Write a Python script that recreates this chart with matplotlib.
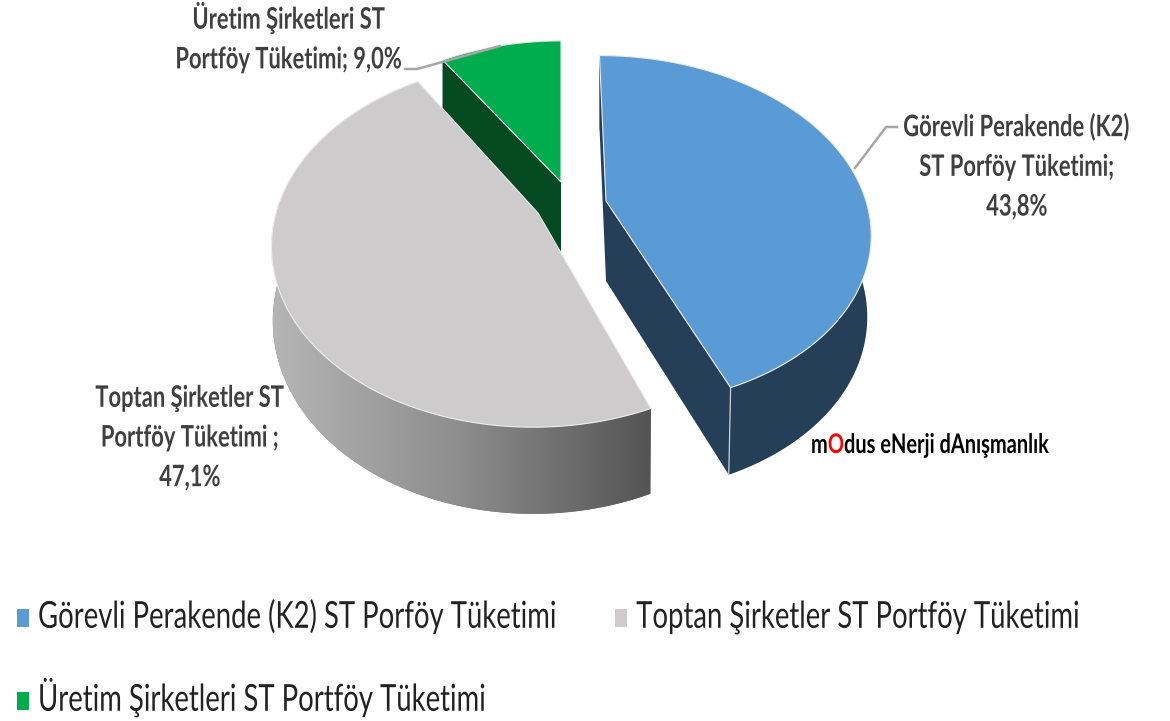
import numpy as np
import matplotlib
matplotlib.use("Agg")
import matplotlib.pyplot as plt
from matplotlib.colors import LinearSegmentedColormap
from matplotlib.patches import Patch, Polygon
from matplotlib.patheffects import AbstractPathEffect
from matplotlib.transforms import Affine2D

plt.rcParams['font.family'] = ['Lato', 'DejaVu Sans']

# data
legend_names = ["Görevli Perakende (K2) ST Porföy Tüketimi",
                "Toptan Şirketler ST Portföy Tüketimi",
                "Üretim Şirketleri ST Portföy Tüketimi"]
label_lines = ["Görevli Perakende (K2)\nST Porföy Tüketimi;\n",
               "Toptan Şirketler ST\nPortföy Tüketimi ;\n",
               "Üretim Şirketleri ST\nPortföy Tüketimi; "]
shares = [43.8, 47.1, 9.0]
colors = ["#5b9bd5", "#cdcbcc", "#00ad4e"]
side_colors = ["#243f57", "#808080", "#034a21"]

# layout of the tilted pie, in pixels
VX = 561.0      # x the far side converges to
PERSP = 0.169
rx = [260, 262, 252]
apex = [(606, 201), (538, 213), (561, 182)]
ry = [170, 178, 165]
depth = [80, 72, 70]
depth_pow = [0.5, 1.0, 2.6]
shrink = [0.985, 0.995, 1.0]


class TallText(AbstractPathEffect):
    # the reference text is stretched upward, so scale glyphs from the baseline
    def __init__(self, sy):
        super().__init__()
        self.sy = sy

    def draw_path(self, renderer, gc, tpath, affine, rgbFace=None):
        renderer.draw_path(gc, tpath, Affine2D().scale(1, self.sy) + affine, rgbFace)


fig = plt.figure(figsize=(11.7, 7.21), dpi=100)
ax = fig.add_axes([0, 0, 1, 1])
ax.set_xlim(0, 1170)
ax.set_ylim(721, 0)
ax.axis('off')

edges = np.cumsum([0] + shares) / sum(shares) * 2 * np.pi


def top_point(i, t, r=1.0):
    w = 1 + PERSP * r * np.cos(t)
    x = VX + (apex[i][0] - VX + rx[i] * r * np.sin(t)) / w
    y = apex[i][1] - ry[i] * r * np.cos(t) / w
    return x, y


def bottom_point(i, t, r=1.0):
    x, y = top_point(i, t, r)
    w = 1 + PERSP * r * np.cos(t)
    return apex[i][0] + (x - apex[i][0]) * shrink[i], y + depth[i] / w ** depth_pow[i]


def arc(i, func):
    ts = np.linspace(edges[i], edges[i + 1], 200)
    return [func(i, t) for t in ts]


def draw_slice(i, show_start, show_end, gradient=None):
    top = arc(i, top_point)
    rim = Polygon(top + arc(i, bottom_point)[::-1], closed=True,
                  fc=side_colors[i], ec='none', zorder=i_order[i])
    ax.add_patch(rim)
    if gradient is not None:
        im = ax.imshow(np.linspace(0, 1, 256).reshape(1, -1), cmap=gradient, aspect='auto',
                       extent=(268, 652, 721, 0), zorder=i_order[i] + 0.1)
        im.set_clip_path(rim)
    for flag, t in ((show_start, edges[i]), (show_end, edges[i + 1])):
        if flag:
            face = [top_point(i, t, 0), top_point(i, t), bottom_point(i, t), bottom_point(i, t, 0)]
            ax.add_patch(Polygon(face, closed=True, fc=side_colors[i], ec='none',
                                 zorder=i_order[i] + 0.2))
    ax.add_patch(Polygon([top_point(i, 0, 0)] + top, closed=True, fc=colors[i],
                         ec='#eeeeee', lw=0.8, zorder=i_order[i] + 0.3))


i_order = [3, 2, 1]
gray_side = LinearSegmentedColormap.from_list("gray_side", ["#b6b6b6", "#8e8d8d", "#545454"])
draw_slice(2, True, False)
draw_slice(1, False, False, gray_side)
draw_slice(0, True, True)
# light seam on the outer corner of the blue slice
cx, cy = zip(top_point(0, edges[1]), bottom_point(0, edges[1]))
ax.plot(cx, cy, color='#c8d0d8', lw=0.9, zorder=3.4)

# data labels
label_style = dict(color='#404040', fontweight='bold', fontsize=15.8, ha='center',
                   va='center', linespacing=2.1, zorder=5, path_effects=[TallText(1.35)])
ax.text(1017, 169, f"{label_lines[0]}{shares[0]:.1f}%".replace('.', ','), **label_style)
ax.text(190, 440, f"{label_lines[1]}{shares[1]:.1f}%".replace('.', ','), **label_style)
ax.text(289, 40, f"{label_lines[2]}{shares[2]:.1f}%".replace('.', ','), **label_style)

# leader lines
ax.plot([897, 886, 855], [127, 127, 168], color='#a6a6a6', lw=1.8, zorder=5)
ax.plot([405, 417, 500], [69, 69, 46], color='#a6a6a6', lw=1.8, zorder=5)

# watermark, the O is red
wm_style = dict(fontweight='bold', fontsize=14.4, zorder=5, path_effects=[TallText(1.35)])
t1 = ax.text(811, 453, "m", color='black', va='baseline', **wm_style)
t2 = ax.annotate("O", xy=(1, 0), xycoords=t1, va='bottom', color='#ff0000', **wm_style)
ax.annotate("dus eNerji dAnışmanlık", xy=(1, 0), xycoords=t2, va='bottom', color='black', **wm_style)

# legend, columns fill top to bottom so the green entry goes second
order = [0, 2, 1]
handles = [Patch(fc=colors[k], ec='none') for k in order]
leg = ax.legend(handles, [legend_names[k] for k in order], ncol=2, loc='lower left',
                bbox_to_anchor=(0.005, -0.008), frameon=False, fontsize=19.8, labelcolor='#222222',
                handlelength=0.44, handleheight=0.62, handletextpad=0.33, columnspacing=2.15,
                labelspacing=1.89, borderaxespad=0)
for txt in leg.get_texts():
    txt.set_path_effects([TallText(1.35)])

plt.savefig("out.png", dpi=100)
